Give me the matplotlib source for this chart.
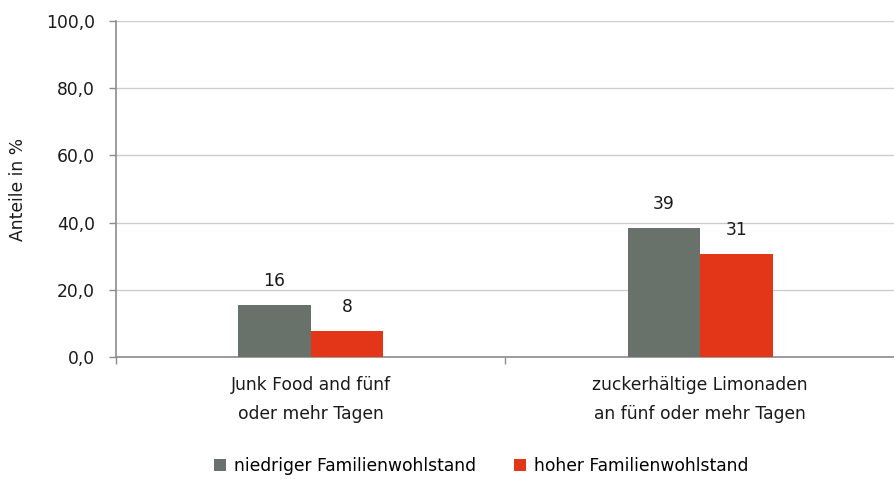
import numpy as np
import matplotlib
matplotlib.use("Agg")
import matplotlib.pyplot as plt

# data
categories = ["Junk Food and fünf\noder mehr Tagen",
              "zuckerhältige Limonaden\nan fünf oder mehr Tagen"]
series_names = ["niedriger Familienwohlstand", "hoher Familienwohlstand"]
low_values = [15.6, 38.4]
high_values = [7.8, 30.7]
low_labels = ["16", "39"]
high_labels = ["8", "31"]
y_ticks = [0, 20, 40, 60, 80, 100]

GREY = "#68716a"
RED = "#e33618"
AXIS = "#8c8c8c"
GRID = "#cccccc"
TXT = "#1a1a1a"
FS = 12.3

plt.rcParams["font.family"] = ["DejaVu Sans"]
plt.rcParams["font.size"] = FS

fig = plt.figure(figsize=(8.95, 4.79), dpi=100)
ax = fig.add_axes([116 / 895, 1 - 357 / 479, (895 - 116) / 895, (357 - 21) / 479])

x = np.arange(len(categories))
w = 0.186
b1 = ax.bar(x - w / 2, low_values, width=w, color=GREY, label=series_names[0], zorder=3)
b2 = ax.bar(x + w / 2, high_values, width=w, color=RED, label=series_names[1], zorder=3)

for bars, labels in ((b1, low_labels), (b2, high_labels)):
    for rect, lab in zip(bars, labels):
        ax.annotate(lab, (rect.get_x() + rect.get_width() / 2, rect.get_height()),
                    xytext=(0, 15), textcoords="offset pixels",
                    ha="center", va="bottom", fontsize=FS, color=TXT)

ax.set_ylim(0, 100)
ax.set_xlim(-0.5, -0.5 + 2 * (895 - 116) / 786)
ax.set_yticks(y_ticks)
ax.set_yticklabels([f"{v:.1f}".replace(".", ",") for v in y_ticks])
ax.yaxis.grid(True, color=GRID, linewidth=1.0, zorder=0)

ax.set_xticks(x)
ax.set_xticklabels(categories, linespacing=1.75)
ax.set_xticks([-0.5, 0.5, 1.5], minor=True)
ax.tick_params(axis="x", which="major", length=0, pad=14, labelsize=FS, colors=TXT)
ax.tick_params(axis="x", which="minor", length=5, width=1, color=AXIS, direction="out")
ax.tick_params(axis="y", length=5, width=1, color=AXIS, pad=10, labelsize=FS, labelcolor=TXT)

for s in ("top", "right"):
    ax.spines[s].set_visible(False)
for s in ("left", "bottom"):
    ax.spines[s].set_color(AXIS)
    ax.spines[s].set_linewidth(1.2)

ax.set_ylabel("Anteile in %", fontsize=FS, color=TXT)
ax.yaxis.set_label_coords((27 - 116) / 779, 0.5)

fig.legend(loc="center", bbox_to_anchor=(481 / 895, 1 - 466 / 479), ncol=2,
           frameon=False, handlelength=0.75, handleheight=0.75, handletextpad=0.45,
           columnspacing=2.2, fontsize=FS)

fig.savefig("out.png", dpi=100)
